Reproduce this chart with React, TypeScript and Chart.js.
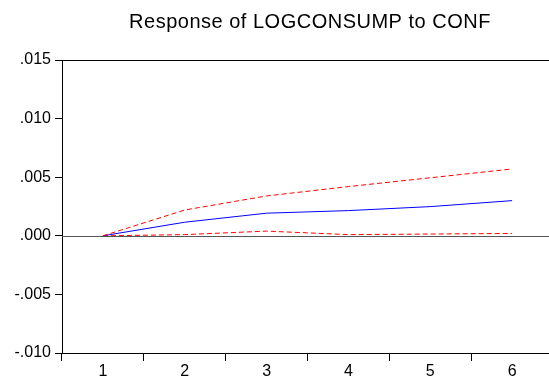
import React, { useEffect, useRef } from "react";
import { Chart, registerables } from "chart.js";

Chart.register(...registerables);

const periods = ["1", "2", "3", "4", "5", "6"];
const response = [0.0, 0.00116, 0.00193, 0.00215, 0.00249, 0.003];
const upperBand = [0.0, 0.0022, 0.0034, 0.0042, 0.00495, 0.0057];
const lowerBand = [0.0, 0.0001, 0.0004, 0.0001, 0.00015, 0.0002];
const yTicks = [-0.01, -0.005, 0.0, 0.005, 0.01, 0.015];
const titleText = "Response of LOGCONSUMP to CONF";

const fmt = (v: number) => {
  const s = Math.abs(v).toFixed(3).replace(/^0/, "");
  return v < 0 ? "-" + s : s;
};

const framePlugin = {
  id: "frame",
  afterDraw(chart: any) {
    const { ctx, chartArea } = chart;
    const y = chart.scales.y;
    ctx.save();
    const z = Math.round(y.getPixelForValue(0)) + 0.5;
    ctx.strokeStyle = "#555555";
    ctx.lineWidth = 1;
    ctx.beginPath();
    ctx.moveTo(chartArea.left, z);
    ctx.lineTo(chartArea.right, z);
    ctx.stroke();
    ctx.strokeStyle = "#000000";
    ctx.beginPath();
    ctx.moveTo(chartArea.left, Math.round(chartArea.top) + 0.5);
    ctx.lineTo(chartArea.right, Math.round(chartArea.top) + 0.5);
    ctx.stroke();
    ctx.fillStyle = "#000000";
    ctx.font = "20px 'Liberation Sans', Arial, sans-serif";
    (ctx as any).letterSpacing = "0.5px";
    ctx.textAlign = "center";
    ctx.textBaseline = "alphabetic";
    ctx.fillText(titleText, 310, 28);
    ctx.restore();
  },
};

export default function App() {
  const ref = useRef<HTMLCanvasElement | null>(null);
  useEffect(() => {
    if (!ref.current) return;
    const chart = new Chart(ref.current, {
      type: "line",
      data: {
        labels: periods,
        datasets: [
          {
            data: upperBand,
            borderColor: "#ff0000",
            borderWidth: 1,
            borderDash: [5, 3],
            pointRadius: 0,
            tension: 0,
          },
          {
            data: response,
            borderColor: "#0000ff",
            borderWidth: 1,
            pointRadius: 0,
            tension: 0,
          },
          {
            data: lowerBand,
            borderColor: "#ff0000",
            borderWidth: 1,
            borderDash: [5, 3],
            pointRadius: 0,
            tension: 0,
          },
        ],
      },
      plugins: [framePlugin],
      options: {
        responsive: false,
        animation: false,
        layout: { padding: { top: 60, left: 0, right: 0, bottom: 0 } },
        plugins: {
          legend: { display: false },
          title: { display: false },
          tooltip: { enabled: false },
        },
        scales: {
          x: {
            type: "category",
            offset: true,
            grid: {
              offset: true,
              drawOnChartArea: false,
              drawTicks: true,
              tickLength: 8,
              color: "#000000",
            },
            border: { display: true, color: "#000000", width: 1 },
            ticks: {
              color: "#000000",
              font: { family: "'Liberation Sans', Arial, sans-serif", size: 16 },
              padding: 1,
              maxRotation: 0,
            },
            afterFit: (s: any) => {
              s.height = 28;
            },
          },
          y: {
            min: -0.01,
            max: 0.015,
            afterBuildTicks: (s: any) => {
              s.ticks = yTicks.map((v) => ({ value: v }));
            },
            grid: {
              drawOnChartArea: false,
              drawTicks: true,
              tickLength: 7,
              color: "#000000",
            },
            border: { display: true, color: "#000000", width: 1 },
            ticks: {
              color: "#000000",
              font: { family: "'Liberation Sans', Arial, sans-serif", size: 16 },
              padding: 4,
              callback: (v: any) => fmt(Number(v)),
            },
            afterFit: (s: any) => {
              s.width = 62;
            },
          },
        },
      },
    });
    return () => chart.destroy();
  }, []);
  return (
    <div
      style={{
        position: "absolute",
        left: 0,
        top: 0,
        width: 549,
        height: 381,
        overflow: "hidden",
        background: "#ffffff",
      }}
    >
      <canvas ref={ref} width={553} height={381} style={{ display: "block" }} />
    </div>
  );
}
